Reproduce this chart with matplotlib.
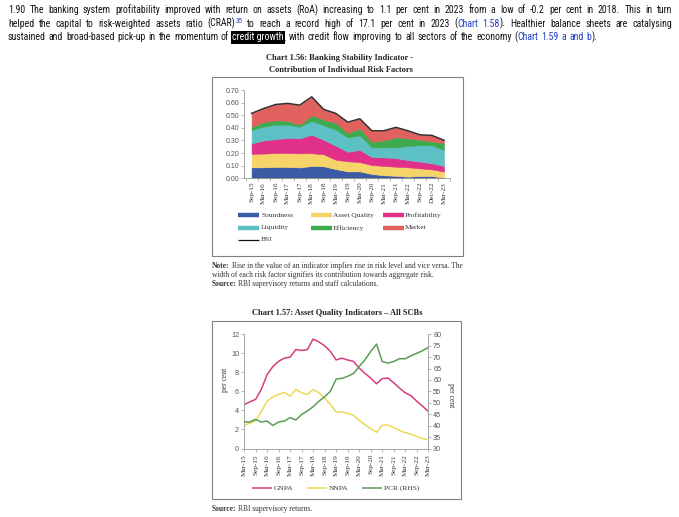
import numpy as np
import matplotlib
matplotlib.use('Agg')
import matplotlib.pyplot as plt
from matplotlib.lines import Line2D
from matplotlib.patches import Rectangle
from matplotlib.ticker import FormatStrFormatter
from matplotlib import font_manager

# ---------------- data ----------------
periods1 = ['Sep-15', 'Mar-16', 'Sep-16', 'Mar-17', 'Sep-17', 'Mar-18', 'Sep-18', 'Mar-19',
            'Sep-19', 'Mar-20', 'Sep-20', 'Mar-21', 'Sep-21', 'Mar-22', 'Sep-22', 'Dec-22', 'Mar-23']
soundness = [0.087, 0.087, 0.090, 0.090, 0.086, 0.098, 0.095, 0.073, 0.055, 0.055, 0.034, 0.024,
             0.020, 0.013, 0.018, 0.018, 0.005]
asset_quality = [0.107, 0.109, 0.110, 0.110, 0.112, 0.101, 0.095, 0.074, 0.080, 0.073, 0.071, 0.074,
                 0.072, 0.074, 0.061, 0.053, 0.048]
profitability = [0.083, 0.104, 0.110, 0.120, 0.119, 0.146, 0.115, 0.111, 0.075, 0.097, 0.063, 0.068,
                 0.068, 0.058, 0.053, 0.048, 0.045]
liquidity = [0.106, 0.110, 0.115, 0.105, 0.093, 0.110, 0.115, 0.127, 0.115, 0.115, 0.077, 0.079,
             0.085, 0.111, 0.130, 0.143, 0.126]
efficiency = [0.027, 0.035, 0.035, 0.030, 0.015, 0.045, 0.045, 0.055, 0.035, 0.055, 0.045, 0.055,
              0.080, 0.062, 0.043, 0.030, 0.056]
market = [0.105, 0.108, 0.125, 0.139, 0.155, 0.146, 0.081, 0.075, 0.085, 0.077, 0.087, 0.077,
          0.079, 0.059, 0.040, 0.048, 0.022]
bsi = [0.515, 0.553, 0.585, 0.594, 0.580, 0.646, 0.546, 0.515, 0.445, 0.472, 0.377, 0.377,
       0.404, 0.377, 0.345, 0.340, 0.302]
series1_names = ['Soundness', 'Asset Quality', 'Profitability', 'Liquidity', 'Efficiency', 'Market']

periods2 = ['Mar-15', 'Sep-15', 'Mar-16', 'Sep-16', 'Mar-17', 'Sep-17', 'Mar-18', 'Sep-18', 'Mar-19',
            'Sep-19', 'Mar-20', 'Sep-20', 'Mar-21', 'Sep-21', 'Mar-22', 'Sep-22', 'Mar-23']
gnpa = [4.6, 4.9, 5.15, 6.2, 7.75, 8.6, 9.15, 9.5, 9.6, 10.4, 10.3, 10.4, 11.5, 11.2, 10.8, 10.2,
        9.3, 9.5, 9.3, 9.15, 8.45, 7.9, 7.4, 6.8, 7.35, 7.4, 6.9, 6.35, 5.85, 5.55, 4.97, 4.45, 3.9]
nnpa = [2.43, 2.65, 2.9, 3.9, 4.97, 5.4, 5.67, 5.9, 5.5, 6.2, 5.85, 5.67, 6.2, 5.85, 5.3, 4.63,
        3.83, 3.83, 3.7, 3.5, 2.96, 2.5, 2.1, 1.7, 2.43, 2.47, 2.2, 1.9, 1.67, 1.5, 1.25, 1.05, 0.9]
pcr = [41.7, 41.6, 42.75, 41.6, 42.0, 40.1, 41.6, 42.0, 43.5, 42.5, 44.9, 46.4, 48.3, 50.7, 52.6,
       55.1, 60.4, 60.7, 61.6, 62.8, 65.9, 68.8, 72.5, 75.7, 68.1, 67.4, 68.1, 69.3, 69.3, 70.6,
       71.7, 72.8, 74.3]

# ---------------- styles ----------------
W, H = 679, 517
SANS = 'Liberation Sans'
SERIF = 'Liberation Serif'

# narrow sans for the body paragraph if one is installed
_fonts = font_manager.fontManager.ttflist
_names = {f.name for f in _fonts}
PSANS, PSTRETCH = 'Liberation Sans', 'normal'
for cand in ['Liberation Sans Narrow', 'Arial Narrow', 'Roboto Condensed', 'Open Sans Condensed']:
    if cand in _names:
        PSANS, PSTRETCH = cand, 'normal'
        break
else:
    if any(f.name == 'DejaVu Sans' and f.stretch == 'condensed' for f in _fonts):
        PSANS, PSTRETCH = 'DejaVu Sans', 'condensed'

TXT = '#151515'
LINK = '#2340c0'
NOTE = '#333333'
C1 = ['#3b5ba5', '#f7d46a', '#e0308a', '#5cc0c4', '#3daa4e', '#e0615e']
C_BSI = '#333333'
C_GNPA, C_NNPA, C_PCR = '#d63c80', '#ecd95a', '#5b9c55'
BOXC = '#808080'
SPC = '#9a9a9a'

fig = plt.figure(figsize=(W / 100, H / 100), dpi=100)
fig.patch.set_facecolor('white')
renderer = fig.canvas.get_renderer()


def fx(x):
    return x / W


def fy(y):
    return 1 - y / H


def measure(t):
    return t.get_window_extent(renderer=renderer).width


def make_piece(text, kind, size, family, color, stretch='normal'):
    kw = dict(fontsize=size, family=family, color=color, ha='left', va='baseline',
              fontstretch=stretch, transform=fig.transFigure)
    dy = 0.0
    if kind == 'link':
        kw['color'] = LINK
    elif kind == 'sup':
        kw['color'] = LINK
        kw['fontsize'] = size * 0.72
        dy = size * 0.40 * 100 / 72
    elif kind == 'hl':
        kw['color'] = 'white'
        kw['bbox'] = dict(boxstyle='square,pad=0.14', fc='black', ec='none')
    elif kind == 'bold':
        kw['fontweight'] = 'bold'
    t = fig.text(0, 0, text, **kw)
    return t, dy


def space_width(size, family, stretch='normal'):
    a = fig.text(0, 0, 'n' + ' ' * 10 + 'n', fontsize=size, family=family, fontstretch=stretch)
    b = fig.text(0, 0, 'nn', fontsize=size, family=family, fontstretch=stretch)
    w = (measure(a) - measure(b)) / 10
    a.remove()
    b.remove()
    return w


def layout_words(words, size, family, color, stretch='normal'):
    out = []
    for w in words:
        pieces = []
        off = 0.0
        for text, kind in w:
            t, dy = make_piece(text, kind, size, family, color, stretch)
            pieces.append((t, off, dy))
            off += measure(t)
        out.append((pieces, off))
    return out


def natural_width(words, size, family, stretch='normal'):
    lay = layout_words(words, size, family, 'k', stretch)
    sp = space_width(size, family, stretch)
    total = sum(w for _, w in lay) + sp * (len(lay) - 1)
    for pieces, _ in lay:
        for t, _, _ in pieces:
            t.remove()
    return total


def draw_line(words, x0, ybase, size, family, color, x1=None, stretch='normal'):
    lay = layout_words(words, size, family, color, stretch)
    sp = space_width(size, family, stretch)
    total = sum(w for _, w in lay)
    gap = sp if x1 is None else (x1 - x0 - total) / (len(lay) - 1)
    x = x0
    for pieces, wd in lay:
        for t, off, dy in pieces:
            t.set_position((fx(x + off), fy(ybase - dy)))
        x += wd + gap


def split(s, kind='n'):
    return [[(w, kind)] for w in s.split()]


# ---------------- paragraph ----------------
line1 = split('1.90 The banking system profitability improved with return on assets (RoA) increasing '
              'to 1.1 per cent in 2023 from a low of -0.2 per cent in 2018. This in turn')
line2 = (split('helped the capital to risk-weighted assets ratio')
         + [[('(CRAR)', 'n'), ('35', 'sup')]]
         + split('to reach a record high of 17.1 per cent in 2023')
         + [[('(', 'n'), ('Chart', 'link')], [('1.58', 'link'), (').', 'n')]]
         + split('Healthier balance sheets are catalysing'))
line3 = (split('sustained and broad-based pick-up in the momentum of')
         + [[('credit growth', 'hl'), (',', 'n')]]
         + split('with credit flow improving to all sectors of the economy')
         + [[('(', 'n'), ('Chart', 'link')], [('1.59', 'link')], [('a', 'link')], [('and', 'link')],
            [('b', 'link'), (').', 'n')]])

psize = 0.97 * 10 * (597 - 8) / natural_width(line3, 10, PSANS, PSTRETCH)
draw_line(line1, 8, 13.2, psize, PSANS, TXT, x1=672, stretch=PSTRETCH)
draw_line(line2, 8, 26.7, psize, PSANS, TXT, x1=672, stretch=PSTRETCH)
draw_line(line3, 8, 40.2, psize, PSANS, TXT, x1=597, stretch=PSTRETCH)

# ---------------- chart 1 ----------------
t1a = [[('Chart 1.56: Banking Stability Indicator -', 'bold')]]
tsize = 10 * 146 / natural_width(t1a, 10, SERIF)
fig.text(fx(339), fy(58), 'Chart 1.56: Banking Stability Indicator -', fontsize=tsize, family=SERIF,
         fontweight='bold', ha='center', va='center', color='#222')
fig.text(fx(341), fy(69.5), 'Contribution of Individual Risk Factors', fontsize=tsize, family=SERIF,
         fontweight='bold', ha='center', va='center', color='#222')

fig.add_artist(Rectangle((fx(212), fy(256)), (463 - 212) / W, (256 - 77) / H, transform=fig.transFigure,
                         fill=False, ec=BOXC, lw=0.8))

ax1 = fig.add_axes([fx(244), fy(178.3), (450 - 244) / W, (178.3 - 90) / H])
xi = np.arange(len(periods1))
polys = ax1.stackplot(xi, soundness, asset_quality, profitability, liquidity, efficiency, market,
                      colors=C1, linewidth=0)
for p, c in zip(polys, C1):
    p.set_edgecolor(c)
    p.set_linewidth(0.4)
ax1.plot(xi, bsi, color=C_BSI, lw=1.1)
ax1.set_xlim(-0.63, 16.27)
ax1.set_ylim(0, 0.70)
ax1.set_yticks(np.arange(0, 0.701, 0.1))
ax1.yaxis.set_major_formatter(FormatStrFormatter('%.2f'))
ax1.set_xticks(xi)
ax1.set_xticklabels(periods1, rotation=90, fontsize=5.2, family=SERIF, color='#333')
ax1.set_xticks(np.arange(-0.5, 16.6, 1), minor=True)
for lab in ax1.get_yticklabels():
    lab.set_fontsize(5.0)
    lab.set_family(SANS)
    lab.set_color('#555')
ax1.tick_params(axis='x', which='major', length=0, pad=2.5)
ax1.tick_params(axis='x', which='minor', length=2, width=0.5, color=SPC)
ax1.tick_params(axis='y', length=2, width=0.5, color=SPC, pad=1.5)
for s in ['top', 'right']:
    ax1.spines[s].set_visible(False)
for s in ['left', 'bottom']:
    ax1.spines[s].set_color(SPC)
    ax1.spines[s].set_linewidth(0.6)
ax1.patch.set_alpha(0)

# legend 1 (manual)
leg1 = [(0, 238, 261, 215.0), (1, 311, 333, 215.0), (2, 383, 405, 215.0),
        (3, 238, 261, 227.7), (4, 311, 333, 227.7), (5, 383, 405, 227.7)]
for idx, hx, tx, yy in leg1:
    fig.add_artist(Line2D([fx(hx), fx(hx + 21)], [fy(yy), fy(yy)], transform=fig.transFigure,
                          color=C1[idx], lw=3.2, solid_capstyle='butt'))
    fig.text(fx(tx), fy(yy), series1_names[idx], fontsize=5.4, family=SERIF, ha='left', va='center',
             color='#333')
fig.add_artist(Line2D([fx(238), fx(259)], [fy(240), fy(240)], transform=fig.transFigure,
                      color='#111', lw=0.9, solid_capstyle='butt'))
fig.text(fx(261), fy(240), 'BSI', fontsize=5.4, family=SERIF, ha='left', va='center', color='#333')

# notes (label in bold + rest of the line as one run)
n1 = [[('Note:', 'bold')], [('Rise in the value of an indicator implies rise in risk level and vice versa. The', 'n')]]
n2 = [[('width of each risk factor signifies its contribution towards aggregate risk.', 'n')]]
n3 = [[('Source:', 'bold')], [('RBI supervisory returns and staff calculations.', 'n')]]
nsize = min(10 * (433 - 212) / natural_width(n2, 10, SERIF),
            10 * (462 - 212) / natural_width(n1, 10, SERIF))
draw_line(n1, 212, 267.5, nsize, SERIF, NOTE)
draw_line(n2, 212, 277.0, nsize, SERIF, NOTE)
draw_line(n3, 212, 286.5, nsize, SERIF, NOTE)

# ---------------- chart 2 ----------------
fig.text(fx(337.5), fy(312.7), 'Chart 1.57: Asset Quality Indicators \u2013 All SCBs', fontsize=tsize,
         family=SERIF, fontweight='bold', ha='center', va='center', color='#222')
fig.add_artist(Rectangle((fx(212), fy(499)), (461 - 212) / W, (499 - 321) / H, transform=fig.transFigure,
                         fill=False, ec=BOXC, lw=0.8))

ax2 = fig.add_axes([fx(244), fy(448.5), (428.3 - 244) / W, (448.5 - 334.3) / H])
q = np.arange(len(gnpa))
ax2.plot(q, gnpa, color=C_GNPA, lw=1.1)
ax2.plot(q, nnpa, color=C_NNPA, lw=1.1)
ax2.set_xlim(0, len(gnpa) - 1)
ax2.set_ylim(0, 12)
ax2.set_yticks(range(0, 13, 2))
ax2.set_xticks(q[::2])
ax2.set_xticklabels(periods2, rotation=90, fontsize=5.2, family=SERIF, color='#333')
axr = ax2.twinx()
axr.plot(q, pcr, color=C_PCR, lw=1.1)
axr.set_ylim(30, 80)
axr.set_yticks(range(30, 81, 5))
for a in (ax2, axr):
    for lab in a.get_yticklabels():
        lab.set_fontsize(5.2)
        lab.set_family(SANS)
        lab.set_color('#555')
    a.tick_params(axis='both', length=2, width=0.5, color=SPC, pad=1.5)
    for s in a.spines.values():
        s.set_color(SPC)
        s.set_linewidth(0.6)
ax2.tick_params(axis='x', pad=2)
ax2.spines['top'].set_visible(False)
ax2.spines['right'].set_visible(False)
axr.spines['top'].set_visible(False)
axr.spines['left'].set_visible(False)
axr.spines['bottom'].set_visible(False)

fig.text(fx(225), fy(380), 'per cent', rotation=90, fontsize=5.5, family=SERIF, ha='center',
         va='center', color='#333')
fig.text(fx(451), fy(395), 'per cent', rotation=270, fontsize=5.5, family=SERIF, ha='center',
         va='center', color='#333')

leg2 = [('GNPA', C_GNPA, 252, 274), ('NNPA', C_NNPA, 307, 329), ('PCR (RHS)', C_PCR, 362, 384)]
for name, c, hx, tx in leg2:
    fig.add_artist(Line2D([fx(hx), fx(hx + 20)], [fy(488), fy(488)], transform=fig.transFigure,
                          color=c, lw=1.1, solid_capstyle='butt'))
    fig.text(fx(tx), fy(488), name, fontsize=5.4, family=SERIF, ha='left', va='center', color='#333')

s2 = [[('Source:', 'bold')], [('RBI supervisory returns.', 'n')]]
draw_line(s2, 212, 511.3, nsize, SERIF, NOTE)

fig.savefig('out.png', dpi=100, facecolor='white')
